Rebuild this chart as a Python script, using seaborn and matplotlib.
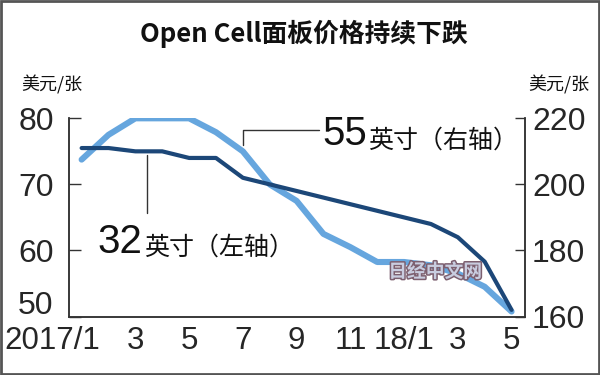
import matplotlib
matplotlib.use("Agg")
import matplotlib.pyplot as plt
import matplotlib.patheffects as pe
import matplotlib.transforms as mtransforms
from matplotlib.patches import Rectangle
import seaborn as sns
import pandas as pd

# ---- data ----
months = list(range(17))  # 2017/1 .. 2018/5
tick_labels = ["2017/1", "", "3", "", "5", "", "7", "", "9", "", "11", "", "18/1", "", "3", "", "5"]
price_32 = [75.5, 75.5, 75.0, 75.0, 74.0, 74.0, 71.0, 70.0, 69.0, 68.0, 67.0, 66.0, 65.0, 64.0, 62.0, 58.3, 51.0]
price_55 = [207.5, 215.0, 220.0, 220.0, 220.0, 215.8, 210.0, 200.0, 195.0, 185.0, 181.0, 176.5, 176.5, 175.5, 173.0, 169.0, 161.5]
left_ticks = [50, 60, 70, 80]
right_ticks = [160, 180, 200, 220]

df = pd.DataFrame({"month": months, "p32": price_32, "p55": price_55})

sns.set_style("white")
NUM = ["Liberation Sans Narrow", "Liberation Sans", "DejaVu Sans"]
CJK = ["Noto Sans CJK SC", "DejaVu Sans"]
plt.rcParams["font.family"] = CJK

fig = plt.figure(figsize=(6, 3.75), dpi=100)
fig.patch.set_facecolor("white")
fig.patches.append(Rectangle((0.0015, 0.0025), 0.997, 0.995, transform=fig.transFigure,
                             fill=False, edgecolor="#555555", linewidth=2.0))

ax = fig.add_axes([0.115, 0.156, 0.76, 0.5285])
ax2 = ax.twinx()

DARK = "#1c4778"
LIGHT = "#66a6de"

sns.lineplot(data=df, x="month", y="p32", ax=ax, color=DARK, linewidth=3.0, zorder=3)
sns.lineplot(data=df, x="month", y="p55", ax=ax2, color=LIGHT, linewidth=4.4, zorder=2)
ax.set_zorder(ax2.get_zorder() + 1)
ax.patch.set_visible(False)

ax.set_xlim(-0.47, 16.5)
ax.set_ylim(50, 80)
ax2.set_ylim(160, 220)

for a in (ax, ax2):
    a.set_xlabel("")
    a.set_ylabel("")
    a.spines["top"].set_visible(False)
    for s in ("left", "right", "bottom"):
        a.spines[s].set_color("#333333")
        a.spines[s].set_linewidth(1.1)
    a.grid(False)

ax.set_xticks(months)
ax.set_xticklabels(tick_labels, fontfamily=NUM, fontsize=22.5)
ax.tick_params(axis="x", direction="in", length=4, width=1, color="#333333", pad=6.5)
ax.set_yticks(left_ticks)
ax.set_yticklabels([str(v) for v in left_ticks], fontfamily=NUM, fontsize=23)
ax.tick_params(axis="y", direction="in", length=8.5, width=1, color="#333333", pad=11)
ax2.set_yticks(right_ticks)
ax2.set_yticklabels([str(v) for v in right_ticks], fontfamily=NUM, fontsize=23)
ax2.tick_params(axis="y", direction="in", length=7, width=1, color="#333333", pad=5)

# shift first x label left like in reference
first = ax.get_xticklabels()[0]
first.set_transform(first.get_transform() + mtransforms.ScaledTranslation(-29 / 100, 0, fig.dpi_scale_trans))
# "50" label sits above the bottom spine
low = ax.get_yticklabels()[0]
low.set_transform(low.get_transform() + mtransforms.ScaledTranslation(0, 14 / 100, fig.dpi_scale_trans))

# ---- annotations ----
ax.plot([2.45, 2.45], [74.5, 65.6], color="#333333", linewidth=1.0, zorder=4)
t32 = ax.text(0.6, 59.6, "32", fontfamily=["Liberation Sans", "DejaVu Sans"], fontsize=29,
              ha="left", va="baseline", color="#111111")
ax.annotate("英寸（左轴）", xy=(1, 0), xycoords=t32, xytext=(1, 0), textcoords="offset points",
            fontsize=18, ha="left", va="bottom", color="#111111", fontfamily=CJK)

ax2.plot([6, 6, 8.83], [211.8, 216.6, 216.6], color="#333333", linewidth=1.0, zorder=4)
t55 = ax2.text(8.95, 211.8, "55", fontfamily=["Liberation Sans", "DejaVu Sans"], fontsize=29,
               ha="left", va="baseline", color="#111111")
ax2.annotate("英寸（右轴）", xy=(1, 0), xycoords=t55, xytext=(1, 0), textcoords="offset points",
             fontsize=18, ha="left", va="bottom", color="#111111", fontfamily=CJK)

# units
fig.text(21 / 600, 1 - 85 / 375, "美元/张", fontsize=13, ha="left", va="center", color="#111111")
fig.text(589 / 600, 1 - 85 / 375, "美元/张", fontsize=13, ha="right", va="center", color="#111111")

# title
fig.text(0.507, 1 - 34 / 375, "Open Cell面板价格持续下跌", fontsize=18.5, fontweight="bold",
         ha="center", va="center", color="#111111")

# watermark
wm = ax.text(0.803, 0.225, "日经中文网", transform=ax.transAxes, fontsize=13.5, fontweight="bold",
             ha="center", va="center", color="#c9cde0", zorder=10)
wm.set_path_effects([pe.withStroke(linewidth=2.2, foreground="#7d6070")])

fig.savefig("out.png", dpi=100, facecolor="white")
